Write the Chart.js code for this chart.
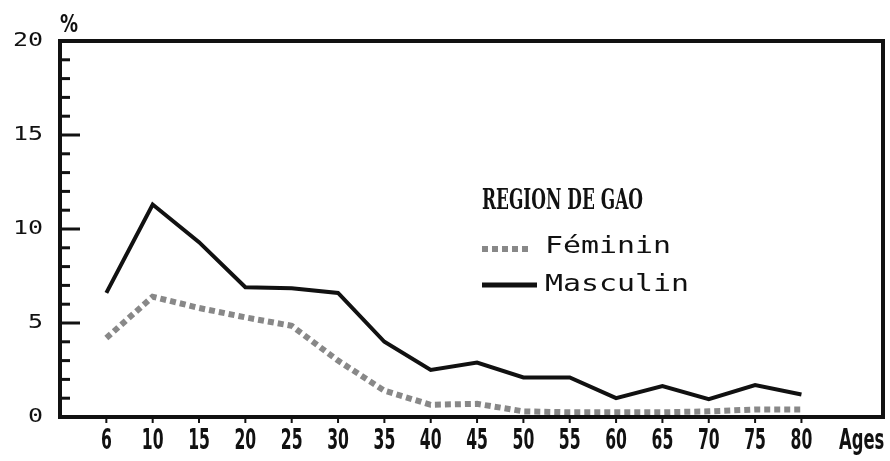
<!DOCTYPE html>
<html>
<head>
<meta charset="utf-8">
<script src="https://cdn.jsdelivr.net/npm/chart.js@4"></script>
<style>
  html, body { margin: 0; padding: 0; background: #fff; }
  #wrap { width: 890px; height: 461px; position: relative; }
</style>
</head>
<body>
<div id="wrap"><canvas id="myChart" width="890" height="461"></canvas></div>
<script>
// age groups (x axis) and percentages
const ages = [6, 10, 15, 20, 25, 30, 35, 40, 45, 50, 55, 60, 65, 70, 75, 80];
const feminin = [4.2, 6.4, 5.8, 5.3, 4.85, 3.0, 1.4, 0.65, 0.7, 0.3, 0.25, 0.25, 0.25, 0.3, 0.4, 0.4];
const masculin = [6.6, 11.3, 9.3, 6.9, 6.85, 6.6, 4.0, 2.5, 2.9, 2.1, 2.1, 1.0, 1.65, 0.95, 1.7, 1.2];
const yTicks = [0, 5, 10, 15, 20];
const title = "REGION DE GAO";
const seriesNames = ["Féminin", "Masculin"];
const xTitle = "Ages";

const toPoints = arr => arr.map((v, i) => ({x: i, y: v}));

// draw text squeezed/stretched horizontally
function drawScaled(ctx, text, x, y, font, sx, align) {
	ctx.save();
	ctx.font = font;
	ctx.textBaseline = "middle";
	const w = ctx.measureText(text).width * sx;
	let left = x;
	if (align === "center") left = x - w / 2;
	if (align === "right") left = x - w;
	ctx.translate(left, y);
	ctx.scale(sx, 1);
	ctx.textAlign = "left";
	ctx.fillText(text, 0, 0);
	ctx.restore();
}

// same, but squeezed to a given width
function drawFit(ctx, text, x, y, font, width) {
	ctx.save();
	ctx.font = font;
	const sx = width / ctx.measureText(text).width;
	ctx.restore();
	drawScaled(ctx, text, x, y, font, sx, "left");
}

const framePlugin = {
	id: "frame",
	afterDraw(chart) {
		const ctx = chart.ctx;
		const a = chart.chartArea;
		const xs = chart.scales.x, ys = chart.scales.y;
		ctx.save();
		ctx.fillStyle = "#111";
		ctx.strokeStyle = "#111";

		//box
		ctx.lineWidth = 4;
		ctx.strokeRect(a.left, a.top, a.right - a.left, a.bottom - a.top);

		//y ticks inside the box
		ctx.lineWidth = 3;
		for (let v = 1; v < 20; v++) {
			const py = ys.getPixelForValue(v);
			const len = v % 5 === 0 ? 20 : 10;
			ctx.beginPath();
			ctx.moveTo(a.left, py);
			ctx.lineTo(a.left + len, py);
			ctx.stroke();
		}
		yTicks.forEach(v => {
			drawScaled(ctx, String(v), a.left - 17, ys.getPixelForValue(v), "20px 'DejaVu Sans Mono'", 1.25, "right");
		});
		drawScaled(ctx, "%", a.left, a.top - 15, "bold 24px 'DejaVu Sans'", 0.75, "left");

		//x ticks below the box
		ctx.lineWidth = 2;
		ages.forEach((age, i) => {
			const px = xs.getPixelForValue(i);
			ctx.beginPath();
			ctx.moveTo(px, a.bottom + 2);
			ctx.lineTo(px, a.bottom + 6);
			ctx.stroke();
			drawScaled(ctx, String(age), px, a.bottom + 25, "bold 28px 'DejaVu Sans Condensed', 'DejaVu Sans'", 0.62, "center");
		});
		drawScaled(ctx, xTitle, xs.getPixelForValue(16.3), a.bottom + 25, "bold 28px 'DejaVu Sans Condensed', 'DejaVu Sans'", 0.65, "center");

		//legend
		const lx = 482;
		drawFit(ctx, title, lx, 202, "bold 27px 'DejaVu Serif Condensed', 'DejaVu Serif'", 161);
		ctx.lineWidth = 6;
		ctx.strokeStyle = "#888";
		ctx.setLineDash([6, 4]);
		ctx.beginPath();
		ctx.moveTo(lx, 249);
		ctx.lineTo(lx + 50, 249);
		ctx.stroke();
		ctx.setLineDash([]);
		ctx.lineWidth = 5;
		ctx.strokeStyle = "#111";
		ctx.beginPath();
		ctx.moveTo(lx, 285);
		ctx.lineTo(lx + 55, 285);
		ctx.stroke();
		drawScaled(ctx, seriesNames[0], 545, 247, "23px 'DejaVu Sans Mono'", 1.3, "left");
		drawScaled(ctx, seriesNames[1], 545, 285, "23px 'DejaVu Sans Mono'", 1.3, "left");
		ctx.restore();
	}
};

const ctx = document.getElementById("myChart");
const myChart = new Chart(ctx, {
	type: "line",
	data: {
		datasets: [
			{
				label: seriesNames[0],
				data: toPoints(feminin),
				borderColor: "#888",
				borderWidth: 6,
				borderDash: [6, 4],
				pointRadius: 0,
				tension: 0
			},
			{
				label: seriesNames[1],
				data: toPoints(masculin),
				borderColor: "#111",
				borderWidth: 4,
				pointRadius: 0,
				tension: 0
			}
		]
	},
	options: {
		responsive: false,
		animation: false,
		layout: {
			padding: {left: 60, top: 41, right: 7, bottom: 44}
		},
		scales: {
			x: { type: "linear", min: -1, max: 16.76, display: false },
			y: { min: 0, max: 20, display: false }
		},
		plugins: {
			legend: { display: false },
			tooltip: { enabled: false }
		}
	},
	plugins: [framePlugin]
});
</script>
</body>
</html>
